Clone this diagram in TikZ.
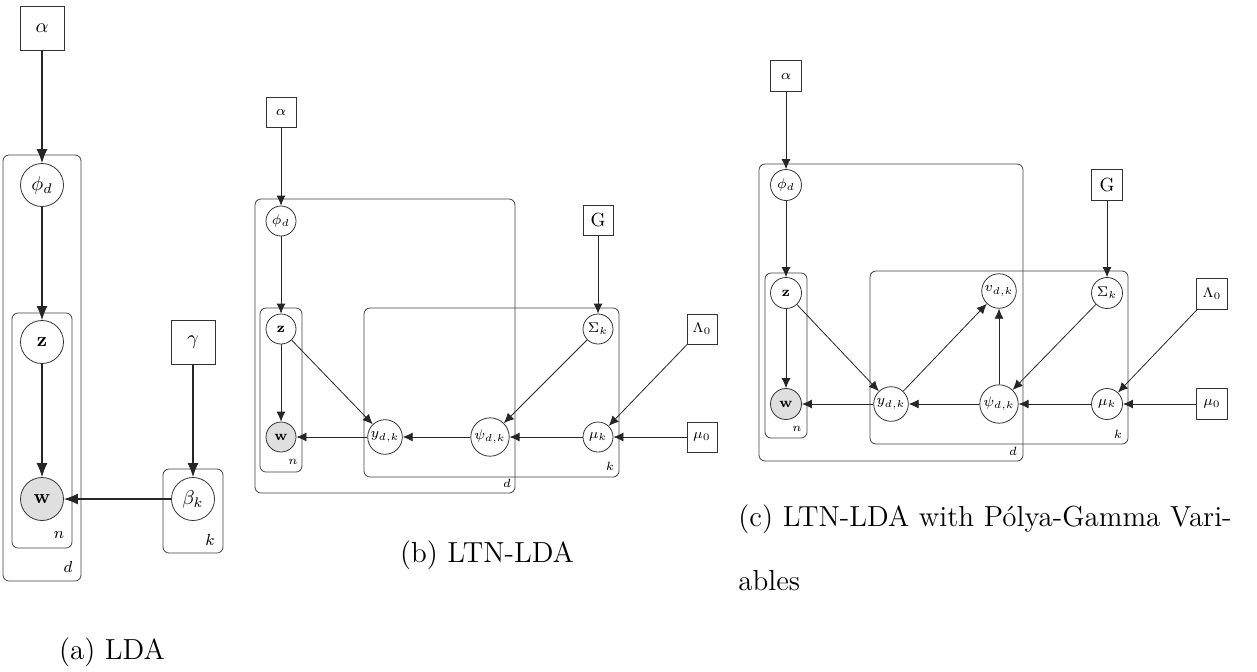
\documentclass[tikz,border=0pt]{standalone}
\usepackage{tikz}
\usetikzlibrary{arrows.meta}
\begin{document}
\begin{tikzpicture}[x=0.5pt,y=-0.5pt]
\tikzset{
  latent/.style={circle,draw=black!80,fill=white,inner sep=0.8pt,minimum size=15pt,font=\fontsize{7.5}{8}\selectfont},
  obs/.style={latent,fill=gray!25},
  const/.style={rectangle,draw=black!80,fill=white,inner sep=0.8pt,minimum size=15pt,font=\fontsize{7.5}{8}\selectfont},
  plate/.style={draw=black!75,rounded corners=3pt},
  platelbl/.style={font=\fontsize{6.5}{7}\selectfont,inner sep=0pt},
  edge/.style={draw=black!85,-{Latex[length=5pt,width=4.5pt]}},
  caption/.style={font=\fontsize{14.5}{32}\selectfont,inner sep=0pt}
}
\useasboundingbox (0,0) rectangle (1257,671);

\begin{scope}[latent/.append style={minimum size=21.5pt,font=\fontsize{10}{11}\selectfont},
  const/.append style={minimum size=22pt,font=\fontsize{10}{11}\selectfont},
  platelbl/.append style={font=\fontsize{8.5}{9}\selectfont},
  edge/.append style={line width=0.6pt,-{Latex[length=7pt,width=5.5pt]}}]
\draw[plate] (3,155) rectangle (81,581);
\draw[plate] (12,313) rectangle (72,548);
\draw[plate] (163,469) rectangle (223,553);
\node[platelbl] (dA) at (68,567) {$d$};
\node[platelbl] (nA) at (59,535) {$n$};
\node[platelbl] (kA) at (210,540) {$k$};
\node[const] (alphaA) at (42,28) {$\alpha$};
\node[latent] (phiA) at (42,185) {$\phi_d$};
\node[latent] (zA) at (42,342) {$\mathbf{z}$};
\node[obs] (wA) at (42,499) {$\mathbf{w}$};
\node[const] (gammaA) at (193,342) {$\gamma$};
\node[latent] (betaA) at (193,499) {$\beta_k$};
\draw[edge] (alphaA) -- (phiA);
\draw[edge] (phiA) -- (zA);
\draw[edge] (zA) -- (wA);
\draw[edge] (gammaA) -- (betaA);
\draw[edge] (betaA) -- (wA);
\end{scope}
\node[caption,anchor=base] (capA) at (112,659) {(a) LDA};

\draw[plate] (255,199) rectangle (515,493);
\draw[plate] (260,308) rectangle (302,472);
\draw[plate] (364,308) rectangle (619,477);
\node[platelbl] (dB) at (507,483) {$d$};
\node[platelbl] (nB) at (293,462) {$n$};
\node[platelbl] (kB) at (610,466) {$k$};
\node[const] (alphaB) at (281,112) {$\alpha$};
\node[latent] (phiB) at (281,221) {$\phi_d$};
\node[latent] (zB) at (281,329) {$\mathbf{z}$};
\node[obs] (wB) at (281,437) {$\mathbf{w}$};
\node[latent] (yB) at (385,437) {$y_{d,k}$};
\node[latent] (psiB) at (490,437) {$\psi_{d,k}$};
\node[latent] (muB) at (598,437) {$\mu_k$};
\node[latent] (sigmaB) at (598,329) {$\Sigma_k$};
\node[const,font=\fontsize{9.5}{10}\selectfont] (gB) at (598,220) {G};
\node[const] (lambdaB) at (702,329) {$\Lambda_0$};
\node[const] (muzeroB) at (702,437) {$\mu_0$};
\draw[edge] (alphaB) -- (phiB);
\draw[edge] (phiB) -- (zB);
\draw[edge] (zB) -- (wB);
\draw[edge] (zB) -- (yB);
\draw[edge] (yB) -- (wB);
\draw[edge] (psiB) -- (yB);
\draw[edge] (muB) -- (psiB);
\draw[edge] (sigmaB) -- (psiB);
\draw[edge] (gB) -- (sigmaB);
\draw[edge] (lambdaB) -- (muB);
\draw[edge] (muzeroB) -- (muB);
\node[caption,anchor=base] (capB) at (487,562) {(b) LTN-LDA};

\begin{scope}[latent/.append style={minimum size=15.5pt}, const/.append style={minimum size=15.5pt}]
\draw[plate] (759,164) rectangle (1023,461);
\draw[plate] (765,273) rectangle (807,438);
\draw[plate] (870,271) rectangle (1128,444);
\node[platelbl] (dC) at (1013,451) {$d$};
\node[platelbl] (nC) at (797,429) {$n$};
\node[platelbl] (kC) at (1118,434) {$k$};
\node[const] (alphaC) at (786,76) {$\alpha$};
\node[latent] (phiC) at (786,185) {$\phi_d$};
\node[latent] (zC) at (786,293) {$\mathbf{z}$};
\node[obs] (wC) at (786,404) {$\mathbf{w}$};
\node[latent] (yC) at (891,404) {$y_{d,k}$};
\node[latent] (vC) at (999,291) {$v_{d,k}$};
\node[latent] (psiC) at (999,404) {$\psi_{d,k}$};
\node[latent] (muC) at (1107,404) {$\mu_k$};
\node[latent] (sigmaC) at (1107,293) {$\Sigma_k$};
\node[const,font=\fontsize{9.5}{10}\selectfont] (gC) at (1107,185) {G};
\node[const] (lambdaC) at (1212,294) {$\Lambda_0$};
\node[const] (muzeroC) at (1212,404) {$\mu_0$};
\draw[edge] (alphaC) -- (phiC);
\draw[edge] (phiC) -- (zC);
\draw[edge] (zC) -- (wC);
\draw[edge] (zC) -- (yC);
\draw[edge] (yC) -- (wC);
\draw[edge] (yC) -- (vC);
\draw[edge] (psiC) -- (vC);
\draw[edge] (psiC) -- (yC);
\draw[edge] (sigmaC) -- (psiC);
\draw[edge] (muC) -- (psiC);
\draw[edge] (gC) -- (sigmaC);
\draw[edge] (lambdaC) -- (muC);
\draw[edge] (muzeroC) -- (muC);
\end{scope}
\node[caption,anchor=base west,text width=260pt,align=left] (capC) at (738,526) {(c) LTN-LDA with P\'olya-Gamma Vari-\\ables};
\end{tikzpicture}
\end{document}
